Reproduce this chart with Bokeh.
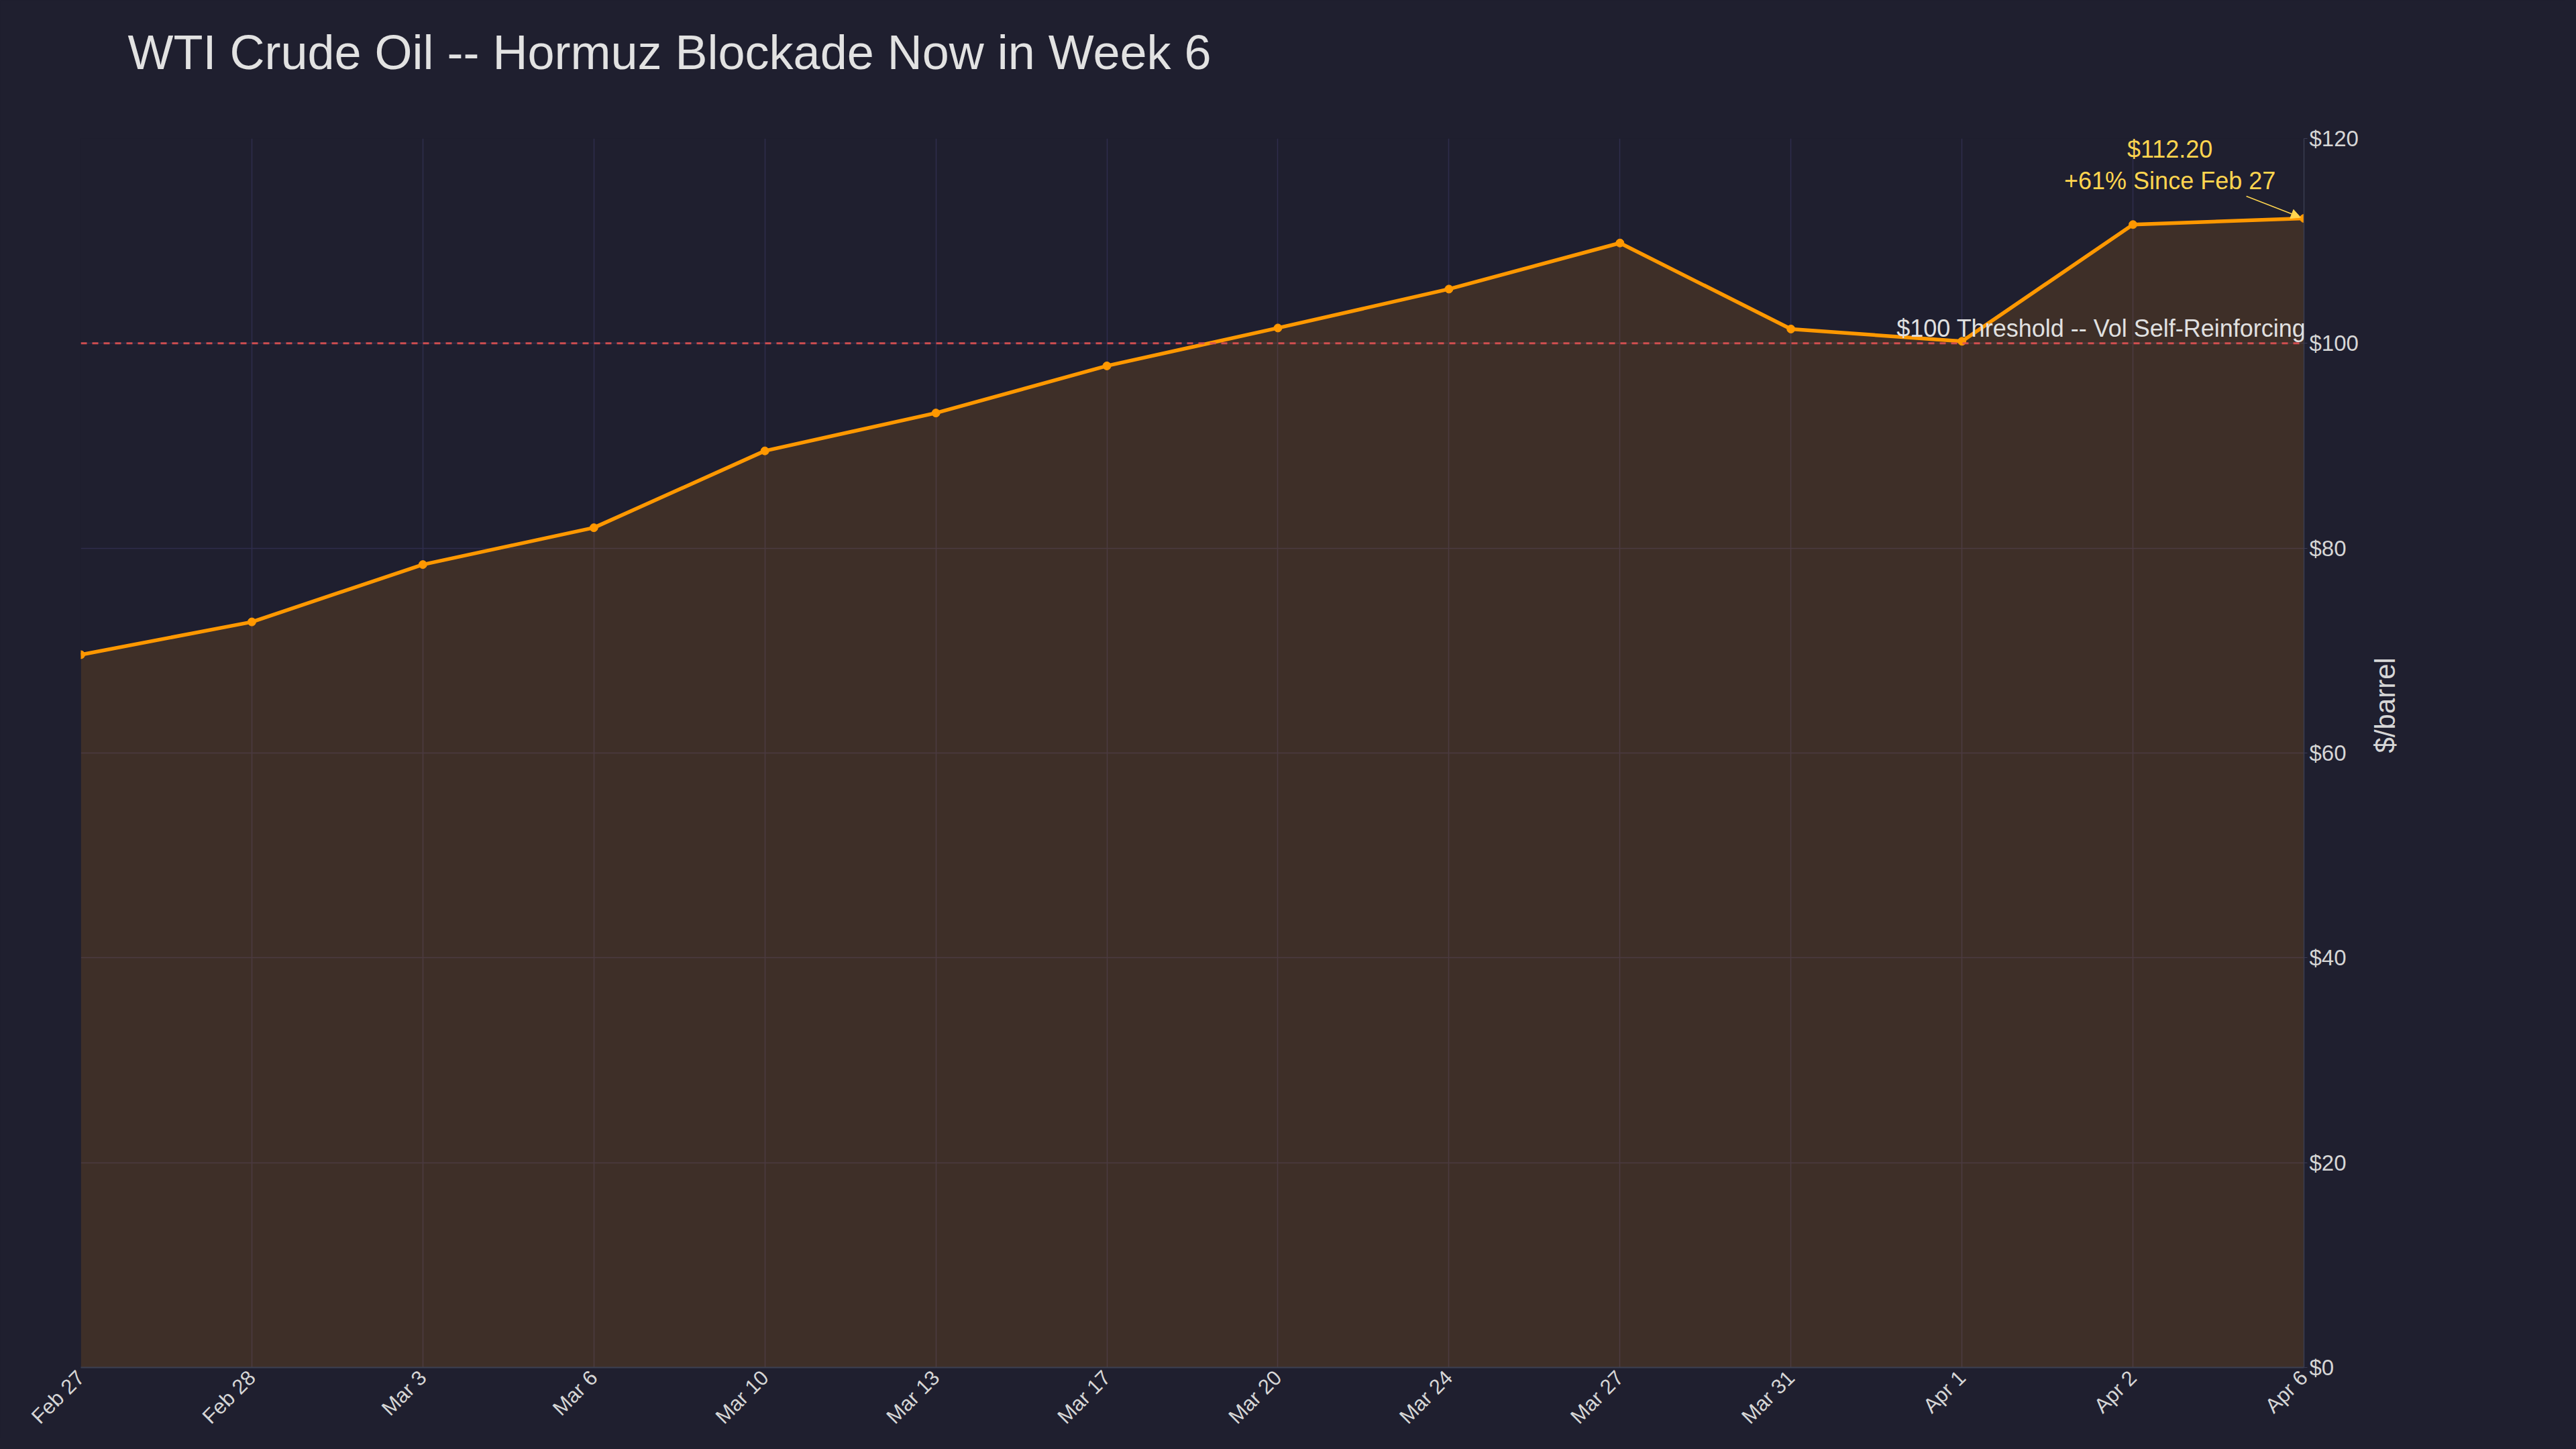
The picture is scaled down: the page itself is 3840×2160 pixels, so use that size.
import math
from bokeh.plotting import figure
from bokeh.models import (Range1d, FixedTicker, NumeralTickFormatter, Span, Label,
                          Arrow, NormalHead, Title)
from bokeh.embed import file_html
from bokeh.resources import INLINE

# ---- data ----
dates = ["Feb 27", "Feb 28", "Mar 3", "Mar 6", "Mar 10", "Mar 13", "Mar 17",
         "Mar 20", "Mar 24", "Mar 27", "Mar 31", "Apr 1", "Apr 2", "Apr 6"]
wti = [69.6, 72.8, 78.4, 82.0, 89.5, 93.2, 97.8, 101.5, 105.3, 109.8,
       101.4, 100.2, 111.6, 112.2]
y_ticks = [0, 20, 40, 60, 80, 100, 120]
threshold = 100
title_text = "WTI Crude Oil -- Hormuz Blockade Now in Week 6"
threshold_text = "$100 Threshold -- Vol Self-Reinforcing"
y_label = "$/barrel"

BG = "#1f1f2f"
ORANGE = "#ff9800"
YELLOW = "#ffd54f"
RED = "#e05252"
GRID = "#2f2d4c"
TXT = "#d6d6d6"
FONT = "Liberation Sans"

x = list(range(len(dates)))

W, H = 3824, 2144
ML, MR, MT, MB = 120, 390, 206, 104

p = figure(width=W, height=H,
           x_range=Range1d(0, len(dates) - 1), y_range=Range1d(0, 120),
           output_backend="svg", toolbar_location=None,
           y_axis_location="right",
           min_border_left=ML, min_border_right=MR,
           min_border_top=MT, min_border_bottom=MB,
           background_fill_color=BG, border_fill_color=BG,
           outline_line_color=None)

# title: a background-coloured spacer next to the frame, the real title above it
spacer = Title(text=".", text_font_size="10px", text_color=BG, standoff=79)
main_title = Title(text=title_text, text_font=FONT, text_font_size="72px",
                   text_font_style="normal", text_color="#e2e2e2",
                   align="left", offset=70, vertical_align="bottom", standoff=0)
p.add_layout(spacer, "above")
p.add_layout(main_title, "above")

# area, line, markers
p.varea(x=x, y1=[0] * len(x), y2=wti, fill_color=ORANGE, fill_alpha=0.14)
p.line(x, wti, line_color=ORANGE, line_width=5.5)
p.scatter(x, wti, size=12, fill_color=ORANGE, line_color=ORANGE)

# threshold
p.add_layout(Span(location=threshold, dimension="width", line_color=RED,
                  line_dash="9 8", line_width=3, line_alpha=0.9))
p.add_layout(Label(x=x[-1], y=threshold, text=threshold_text,
                   text_align="right", text_baseline="middle",
                   x_offset=3, y_offset=22, text_font=FONT,
                   text_font_size="36px", text_color="#e0e0e0"))

# last-value annotation
last_x, last_y = x[-1], wti[-1]
pct = (wti[-1] / wti[0] - 1) * 100
p.add_layout(Label(x=last_x - 0.784, y=last_y + 6.72, text=f"${last_y:.2f}",
                   text_align="center", text_baseline="middle",
                   text_font=FONT, text_font_size="36px", text_color=YELLOW))
p.add_layout(Label(x=last_x - 0.784, y=last_y + 3.65,
                   text=f"+{pct:.0f}% Since {dates[0]}",
                   text_align="center", text_baseline="middle",
                   text_font=FONT, text_font_size="36px", text_color=YELLOW))
p.add_layout(Arrow(end=NormalHead(size=14, fill_color=YELLOW, line_color=YELLOW),
                   x_start=last_x - 0.337, y_start=last_y + 2.17,
                   x_end=last_x - 0.02, y_end=last_y + 0.1,
                   line_color=YELLOW, line_width=1.5))

# axes
xa = p.xaxis[0]
xa.ticker = FixedTicker(ticks=x)
xa.major_label_overrides = {i: d for i, d in enumerate(dates)}
xa.major_label_orientation = math.pi / 4
xa.major_label_text_font = FONT
xa.major_label_text_font_size = "31px"
xa.major_label_text_color = TXT
xa.major_tick_out = 0
xa.major_tick_in = 0
xa.minor_tick_out = 0
xa.minor_tick_in = 0
xa.major_label_standoff = 10
xa.axis_line_color = "#3c4152"
xa.axis_line_width = 2

ya = p.yaxis[0]
ya.ticker = FixedTicker(ticks=y_ticks)
ya.formatter = NumeralTickFormatter(format="$0")
ya.major_label_text_font = FONT
ya.major_label_text_font_size = "33px"
ya.major_label_text_color = TXT
ya.major_tick_out = 5
ya.major_tick_in = 0
ya.minor_tick_out = 0
ya.minor_tick_in = 0
ya.major_tick_line_color = "#3a3a55"
ya.major_label_standoff = 3
ya.axis_line_color = "#3a3d50"
ya.axis_line_width = 1.5
ya.axis_label = y_label
ya.axis_label_text_font = FONT
ya.axis_label_text_font_size = "42px"
ya.axis_label_text_font_style = "normal"
ya.axis_label_text_color = TXT
ya.axis_label_standoff = 37
if "axis_label_orientation" in ya.properties():
    ya.axis_label_orientation = math.pi / 2

p.xgrid.ticker = FixedTicker(ticks=x)
p.ygrid.ticker = FixedTicker(ticks=y_ticks)
for g in (p.xgrid[0], p.ygrid[0]):
    g.grid_line_color = GRID
    g.grid_line_width = 1.5

html = file_html(p, INLINE)
html = html.replace("<head>", "<head><style>html,body{background-color:%s;}</style>" % BG, 1)
open("out.html", "w").write(html)
